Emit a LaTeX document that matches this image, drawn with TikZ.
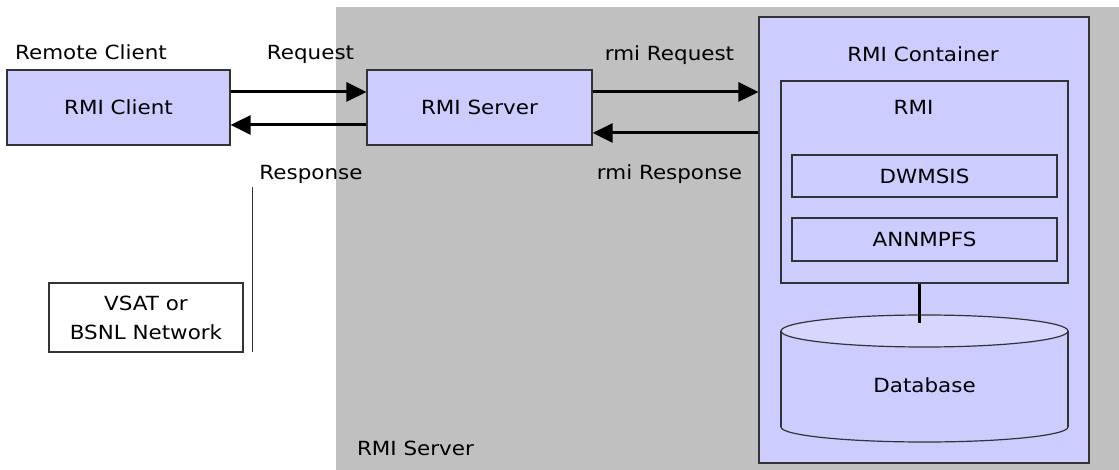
\documentclass[tikz,border=0pt]{standalone}
\usepackage{fontspec}
\setmainfont{DejaVu Sans}[FakeStretch=1.1]
\usetikzlibrary{arrows.meta,calc}
\definecolor{lav}{HTML}{CCCCFF}
\definecolor{lavtop}{HTML}{D6D6FF}
\definecolor{bggray}{HTML}{C0C0C0}
\definecolor{border}{HTML}{333333}
\begin{document}
\begin{tikzpicture}[x=1pt,y=-1pt,
  every node/.style={font=\fontsize{19.5}{29}\selectfont, inner sep=0pt},
  box/.style={draw=border, line width=1.2pt, fill=lav},
  plainbox/.style={draw=border, line width=1.2pt},
  lbl/.style={anchor=base},
  arr/.style={line width=3pt, -{Triangle[length=20pt,width=19pt]}},
  conn/.style={line width=3pt}
]
\useasboundingbox (0,0) rectangle (1119,470);
\fill[white] (0,0) rectangle (1119,470);
% gray server area
\fill[bggray] (336,7) rectangle (1119,470);

% client and server
\node[box, minimum width=223pt, minimum height=75pt] (client) at (118.5,107.5) {RMI Client};
\node[box, minimum width=225pt, minimum height=75pt] (server) at (479.5,107.5) {RMI Server};

% container
\node[box, minimum width=330pt, minimum height=446pt] (container) at (924,240) {};
\node[box, minimum width=287pt, minimum height=202pt] (rmi) at (924.5,182) {};
\node[box, minimum width=265pt, minimum height=42pt] (dwm) at (924.5,176) {DWMSIS};
\node[box, minimum width=265pt, minimum height=43pt] (ann) at (924.5,239.5) {ANNMPFS};

% database cylinder
\fill[lav, draw=border, line width=1.2pt] (924.5,427) ellipse [x radius=143.5, y radius=15];
\fill[lav] (781,331) rectangle (1068,427);
\draw[border, line width=1.2pt] (781,331) -- (781,427) (1068,331) -- (1068,427);
\fill[lavtop, draw=border, line width=1.2pt] (924.5,331) ellipse [x radius=143.5, y radius=16];
\node (db) at (924.5,385) {Database};
\coordinate (dbtop) at (919,323);
\draw[conn] (rmi.south -| dbtop) -- (dbtop);

% network box
\node[plainbox, fill=white, minimum width=194pt, minimum height=69pt, align=center] (vsat) at (146,317.5) {VSAT or\\BSNL Network};
\coordinate (vtop) at (252,187);
\coordinate (vbot) at (252,352);
\draw[border, line width=1pt] (vtop) -- (vbot);

% arrows
\draw[arr] (client.east |- 0,92) -- (server.west |- 0,92);
\draw[arr] (server.west |- 0,125) -- (client.east |- 0,125);
\draw[arr] (server.east |- 0,92) -- (container.west |- 0,92);
\draw[arr] (container.west |- 0,133) -- (server.east |- 0,133);

% labels
\node[lbl] (lrc) at (91,60) {Remote Client};
\node[lbl] (lreq) at (310.5,60) {Request};
\node[lbl] (lrreq) at (669.5,61) {rmi Request};
\node[lbl] (lresp) at (311,180) {Response};
\node[lbl] (lrresp) at (669.5,180) {rmi Response};
\node[lbl] (lcont) at (923,62) {RMI Container};
\node[lbl] (lrmi) at (913.5,115) {RMI};
\node[lbl] (lsrv) at (415.5,455) {RMI Server};
\end{tikzpicture}
\end{document}
